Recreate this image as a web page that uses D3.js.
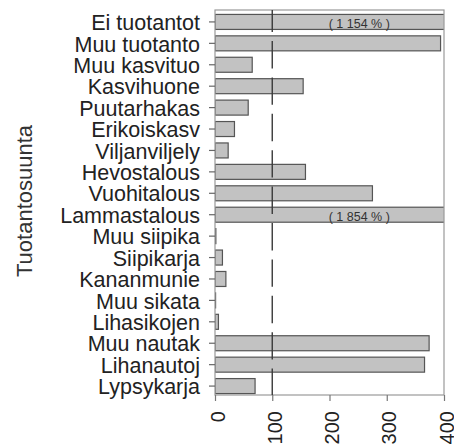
<!DOCTYPE html>
<html>
<head>
<meta charset="utf-8">
<script src="https://cdn.jsdelivr.net/npm/d3@7"></script>
<style>
  body { margin: 0; background: #fff; }
  text { font-family: "Liberation Sans", Arial, sans-serif; }
</style>
</head>
<body>
<svg id="chart"></svg>
<script>
// data
var categories = ["Ei tuotantot", "Muu tuotanto", "Muu kasvituo", "Kasvihuone", "Puutarhakas",
  "Erikoiskasv", "Viljanviljely", "Hevostalous", "Vuohitalous", "Lammastalous", "Muu siipika",
  "Siipikarja", "Kananmunie", "Muu sikata", "Lihasikojen", "Muu nautak", "Lihanautoj", "Lypsykarja"];
var values = [1154, 394, 65, 154, 58, 34, 23, 158, 275, 1854, 1.5, 13, 19, 1, 6, 374, 366, 70];
var xTicks = [0, 100, 200, 300, 400];
var xMax = 400;
var refValue = 100;
var yTitle = "Tuotantosuunta";

var width = 454, height = 447;
var box = { left: 215, right: 444, top: 10, bottom: 395 };

var svg = d3.select("#chart").attr("width", width).attr("height", height);

var x = d3.scaleLinear().domain([0, xMax]).range([box.left, box.right]);
var y = d3.scaleBand().domain(categories).range([8, 400]).paddingInner(0.3).paddingOuter(0.3);

var fmt = d3.formatLocale({ decimal: ",", thousands: " ", grouping: [3], currency: ["", ""] }).format(",d");

var data = categories.map(function (c, i) { return { name: c, value: values[i] }; });

svg.append("clipPath").attr("id", "plotclip")
  .append("rect")
  .attr("x", box.left).attr("y", box.top - 2)
  .attr("width", box.right - box.left).attr("height", box.bottom - box.top + 2);

// bars
svg.append("g").attr("clip-path", "url(#plotclip)")
  .selectAll("rect")
  .data(data)
  .enter()
  .append("rect")
  .attr("x", x(0))
  .attr("y", function (d) { return y(d.name); })
  .attr("width", function (d) { return Math.min(x(d.value), box.right + 2) - x(0); })
  .attr("height", y.bandwidth())
  .attr("fill", "#c2c2c2")
  .attr("stroke", "#555")
  .attr("stroke-width", 1.2);

// box round the plot
svg.append("rect")
  .attr("x", box.left).attr("y", box.top)
  .attr("width", box.right - box.left).attr("height", box.bottom - box.top)
  .attr("fill", "none").attr("stroke", "#999").attr("stroke-width", 1.2);

// reference line at 100
svg.append("line")
  .attr("x1", x(refValue)).attr("x2", x(refValue))
  .attr("y1", box.top).attr("y2", box.bottom)
  .attr("stroke", "#3a3a3a").attr("stroke-width", 1.4)
  .attr("stroke-dasharray", "27.4,9").attr("stroke-dashoffset", 5.4);

// labels on bars that run past the axis
svg.append("g")
  .selectAll("text")
  .data(data.filter(function (d) { return d.value > xMax; }))
  .enter()
  .append("text")
  .attr("x", x(252))
  .attr("y", function (d) { return y(d.name) + y.bandwidth() / 2 + 1.5; })
  .attr("dy", "0.35em")
  .attr("text-anchor", "middle")
  .style("font-size", "12.5px")
  .attr("fill", "#333")
  .text(function (d) { return "( " + fmt(d.value) + " % )"; });

// y axis: ticks and category names
var yAxis = svg.append("g")
  .attr("transform", "translate(" + box.left + ",0)")
  .call(d3.axisLeft(y).tickSize(6).tickPadding(9));
yAxis.select(".domain").remove();
yAxis.selectAll(".tick line").attr("stroke", "#666").attr("stroke-width", 1.2);
yAxis.selectAll(".tick text")
  .attr("fill", "#222")
  .style("font-size", "21.5px")
  .style("font-family", "'Liberation Sans', Arial, sans-serif")
  .attr("dy", "0.38em");

// x axis: ticks and rotated numbers
var xAxis = svg.append("g")
  .attr("transform", "translate(0," + box.bottom + ")")
  .call(d3.axisBottom(x).tickValues(xTicks).tickSize(6).tickFormat(d3.format("d")));
xAxis.select(".domain").remove();
xAxis.selectAll(".tick line").attr("stroke", "#777").attr("stroke-width", 1.2);
xAxis.selectAll(".tick text")
  .attr("fill", "#222")
  .style("font-size", "20px")
  .style("font-family", "'Liberation Sans', Arial, sans-serif")
  .attr("text-anchor", "end")
  .attr("transform", "translate(9,16) rotate(-90)")
  .attr("x", 0).attr("y", 0).attr("dy", 0);

// axis title
svg.append("text")
  .attr("transform", "translate(32,201) rotate(-90)")
  .attr("text-anchor", "middle")
  .style("font-size", "22px")
  .attr("fill", "#333")
  .text(yTitle);
</script>
</body>
</html>
